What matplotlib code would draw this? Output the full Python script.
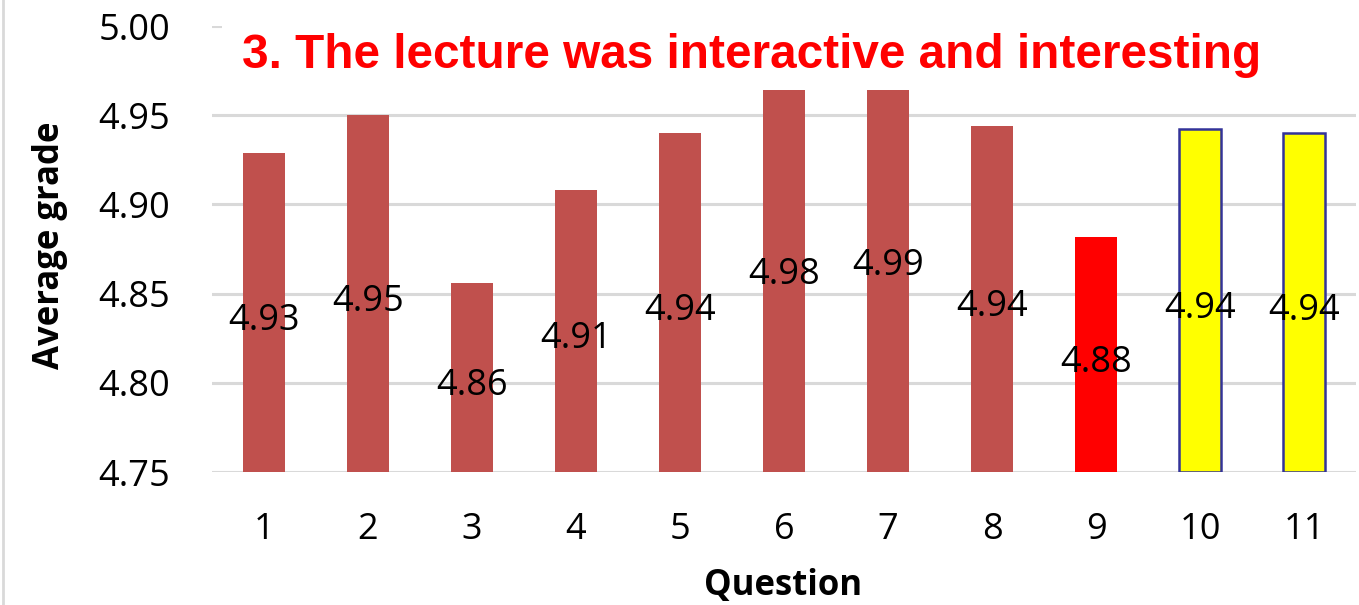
import matplotlib
matplotlib.use("Agg")
import matplotlib.pyplot as plt
from matplotlib.patches import Rectangle
from matplotlib.lines import Line2D
import numpy as np

questions = ["1", "2", "3", "4", "5", "6", "7", "8", "9", "10", "11"]
grades = [4.929, 4.950, 4.856, 4.908, 4.940, 4.98, 4.99, 4.944, 4.882, 4.942, 4.940]
bar_colors = ["#C0504D"] * 8 + ["#FF0000", "#FFFF00", "#FFFF00"]
edge_colors = ["none"] * 9 + ["#333399", "#333399"]
yticks = [4.75, 4.80, 4.85, 4.90, 4.95, 5.00]
title = "3. The lecture was interactive and interesting"

base = 4.75
fig = plt.figure(figsize=(13.59, 6.05), dpi=100)
ax = fig.add_axes([212/1359, 1 - 472/605, (1356-212)/1359, (472-26)/605])

x = np.arange(1, len(questions) + 1)
vals = np.array(grades)
bars = ax.bar(x, vals - base, bottom=base, width=0.40, color=bar_colors,
              edgecolor=edge_colors, linewidth=1.8, zorder=2)
anns = ax.bar_label(bars, labels=[f"{v:.2f}" for v in grades], label_type="center",
                    fontsize=26, family="Open Sans", color="black", zorder=3)
for a in anns:
    a.xyann = (0, -6)

ax.set_xlim(0.5, len(questions) + 0.5)
ax.set_ylim(4.75, 5.00)
ax.set_yticks(yticks)
ax.set_yticklabels([f"{t:.2f}" for t in yticks], family="Open Sans", fontsize=26)
ax.set_xticks(x)
ax.set_xticklabels(questions, family="Open Sans", fontsize=26)
ax.tick_params(axis="both", length=0)
ax.tick_params(axis="y", pad=30)
ax.tick_params(axis="x", pad=29)
for s in ax.spines.values():
    s.set_visible(False)
ax.yaxis.grid(True, color="#D9D9D9", linewidth=2.2, zorder=0)
ax.set_axisbelow(True)

# title box (white, covering top of plot area)
fig.patches.append(Rectangle((222/1359, 1 - 90/605), 1.0, 90/605, transform=fig.transFigure,
                             facecolor="white", edgecolor="none", zorder=5))
fig.text(752/1359, 1 - 55/605, title, ha="center", va="center", color="#FF0000",
         fontsize=34.4, fontweight="bold", family="Liberation Sans", zorder=6)

fig.text(50/1359, 1 - 245/605, "Average grade", rotation=90, ha="center", va="center",
         fontsize=25, fontweight="bold", family="Open Sans")
fig.text(783/1359, 1 - 586/605, "Question", ha="center", va="center",
         fontsize=25, fontweight="bold", family="Open Sans")

fig.lines.append(Line2D([3/1359, 3/1359], [0, 1], transform=fig.transFigure,
                        color="#D9D9D9", linewidth=2))

fig.savefig("out.png", dpi=100)
